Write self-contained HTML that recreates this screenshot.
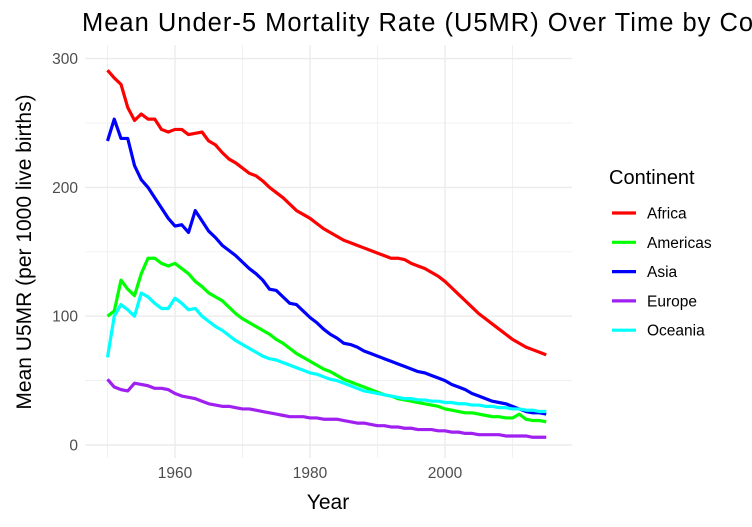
<!DOCTYPE html>
<html><head><meta charset="utf-8"><style>
body{margin:0;background:#fff;overflow:hidden;}
svg{display:block;font-family:"Liberation Sans",Arial,sans-serif;}
</style></head><body>
<svg id="chart" width="752" height="527">
<text x="82" y="31" font-size="25.5" letter-spacing="1" fill="#000">Mean Under-5 Mortality Rate (U5MR) Over Time by Continent</text>
<g id="grid"></g>
<g id="lines"></g>
<g id="axes"></g>
<text x="328" y="509" font-size="21" text-anchor="middle" fill="#000">Year</text>
<text transform="translate(31,252) rotate(-90)" font-size="21" text-anchor="middle" fill="#000">Mean U5MR (per 1000 live births)</text>
<g id="legend"></g>
</svg>
<script>
const years=[];for(let y=1950;y<=2015;y++)years.push(y);
const africa=[291,285,280,262,252,257,253,253,245,243,245,245,241,242,243,236,233,227,222,219,215,211,209,205,200,196,192,187,182,179,176,172,168,165,162,159,157,155,153,151,149,147,145,145,144,141,139,137,134,131,127,122,117,112,107,102,98,94,90,86,82,79,76,74,72,70];
const americas=[100,104,128,121,116,133,145,145,141,139,141,137,133,127,123,118,115,112,107,102,98,95,92,89,86,82,79,75,71,68,65,62,59,57,54,51,49,47,45,43,41,39,38,36,35,34,33,32,31,30,28,27,26,25,25,24,23,22,22,21,21,24,20,19,19,18];
const asia=[236,253,238,238,217,206,200,192,184,176,170,171,165,182,174,166,161,155,151,147,142,137,133,128,121,120,115,110,109,104,99,95,90,86,83,79,78,76,73,71,69,67,65,63,61,59,57,56,54,52,50,47,45,43,40,38,36,34,33,32,30,28,26,25,25,24];
const europe=[51,45,43,42,48,47,46,44,44,43,40,38,37,36,34,32,31,30,30,29,28,28,27,26,25,24,23,22,22,22,21,21,20,20,20,19,18,17,17,16,15,15,14,14,13,13,12,12,12,11,11,10,10,9,9,8,8,8,8,7,7,7,7,6,6,6];
const oceania=[68,100,109,105,100,118,115,110,106,106,114,110,105,106,100,96,92,89,85,81,78,75,72,69,67,66,64,62,60,58,56,55,53,51,50,48,46,44,42,41,40,39,38,37,36,36,35,35,34,34,33,33,32,32,31,31,30,30,29,29,28,28,27,27,26,26];
const seriesNames=["Africa","Americas","Asia","Europe","Oceania"];
const seriesColors=["#ff0000","#00ff00","#0000ff","#a020f0","#00ffff"];
const seriesData=[africa,americas,asia,europe,oceania];
const xTicks=[1960,1980,2000];
const yTicks=[0,100,200,300];
const NS="http://www.w3.org/2000/svg";
const X=v=>107.5+(v-1950)*6.75;
const Y=v=>445-v*1.288;
const PX0=85,PX1=572,PY0=45,PY1=458;
function mk(t,a,p){const e=document.createElementNS(NS,t);for(const k in a)e.setAttribute(k,a[k]);p.appendChild(e);return e;}
const grid=document.getElementById('grid'),axes=document.getElementById('axes'),lines=document.getElementById('lines'),legend=document.getElementById('legend');
for(let v=1950;v<=2010;v+=10){const major=xTicks.includes(v);
const l=mk('line',{x1:X(v),x2:X(v),y1:PY0,y2:PY1,stroke:'#ebebeb','stroke-width':major?1.4:0.7},grid);

}
for(let v=0;v<=300;v+=50){const major=yTicks.includes(v);
const l=mk('line',{x1:PX0,x2:PX1,y1:Y(v),y2:Y(v),stroke:'#ebebeb','stroke-width':major?1.4:0.7},grid);

}
xTicks.forEach(v=>{const t=mk('text',{x:X(v),y:478,'font-size':15.5,fill:'#4d4d4d','text-anchor':'middle'},axes);t.textContent=v;

});
yTicks.forEach(v=>{const t=mk('text',{x:78,y:Y(v)+5.5,'font-size':15.5,fill:'#4d4d4d','text-anchor':'end'},axes);t.textContent=v;

});
seriesData.forEach((d,i)=>{const p=mk('polyline',{points:d.map((v,j)=>X(years[j])+','+Y(v)).join(' '),fill:'none',stroke:seriesColors[i],'stroke-width':3.2,'stroke-linejoin':'round'},lines);

});
const lt=mk('text',{x:609,y:184,'font-size':20,fill:'#000'},legend);lt.textContent='Continent';


seriesNames.forEach((n,i)=>{const y=213+i*29.3;
const g=mk('g',{},legend);


mk('line',{x1:612,x2:636,y1:y,y2:y,stroke:seriesColors[i],'stroke-width':3.2},g);
const t=mk('text',{x:647,y:y+5.5,'font-size':15.5,fill:'#000'},g);t.textContent=n;});
</script>
</body></html>
